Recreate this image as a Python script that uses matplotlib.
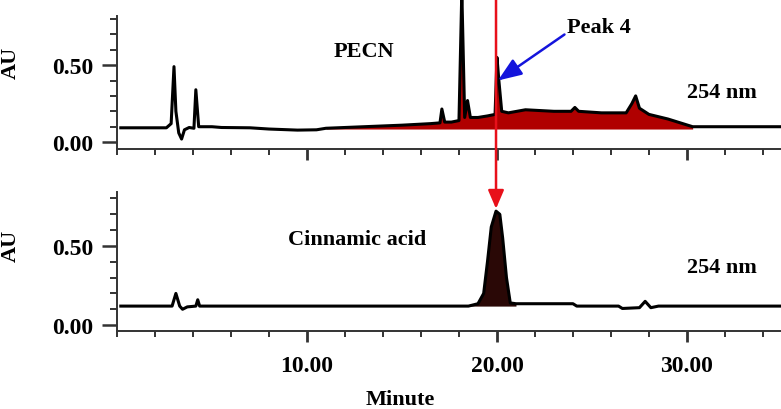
import numpy as np
import matplotlib
matplotlib.use('Agg')
import matplotlib.pyplot as plt
from matplotlib.ticker import MultipleLocator, FixedLocator
from matplotlib.transforms import blended_transform_factory

plt.rcParams['font.family'] = ['Liberation Serif', 'DejaVu Serif']
plt.rcParams['font.weight'] = 'bold'
plt.rcParams['font.size'] = 16

# PECN chromatogram (minutes, AU)
pecn_time = [0.2, 2.6, 2.85, 3.0, 3.1, 3.25, 3.4, 3.55, 3.8, 4.05, 4.15, 4.3, 4.6, 5.0, 5.5,
             7.0, 8.0, 9.5, 10.5, 11.0, 13.0, 15.0, 16.5, 17.0, 17.1, 17.25, 17.6, 18.0,
             18.15, 18.3, 18.45, 18.6, 19.0, 19.5, 19.9, 20.0, 20.1, 20.25, 20.6, 21.5,
             23.0, 23.9, 24.1, 24.3, 25.5, 26.8, 27.1, 27.3, 27.5, 28.0, 29.0, 30.3, 35.0]
pecn_au = [0.093, 0.093, 0.12, 0.49, 0.2, 0.06, 0.02, 0.08, 0.095, 0.09, 0.34, 0.1, 0.1, 0.1, 0.095,
           0.093, 0.085, 0.078, 0.08, 0.09, 0.1, 0.11, 0.12, 0.125, 0.215, 0.13, 0.13, 0.14,
           0.98, 0.16, 0.27, 0.16, 0.16, 0.17, 0.18, 0.55, 0.4, 0.2, 0.19, 0.21,
           0.2, 0.2, 0.225, 0.2, 0.19, 0.19, 0.25, 0.30, 0.22, 0.18, 0.15, 0.1, 0.1]

# Cinnamic acid standard (minutes, AU)
cinn_time = [0.2, 2.9, 3.1, 3.3, 3.45, 3.7, 4.15, 4.25, 4.35, 18.5, 19.0, 19.3, 19.5, 19.7,
             19.95, 20.15, 20.3, 20.5, 20.7, 21.0, 24.0, 24.2, 26.4, 26.6, 27.5, 27.8, 28.1,
             28.5, 35.0]
cinn_au = [0.12, 0.12, 0.2, 0.12, 0.1, 0.115, 0.12, 0.16, 0.12, 0.12, 0.135, 0.2, 0.4, 0.62,
           0.72, 0.7, 0.55, 0.3, 0.14, 0.135, 0.135, 0.12, 0.12, 0.105, 0.11, 0.15, 0.11,
           0.12, 0.12]

peak_time = 19.95

fig = plt.figure(figsize=(7.81, 4.1), dpi=100)
ax1 = fig.add_axes([0.1498, 0.634, 0.8502, 0.366])
ax2 = fig.add_axes([0.1498, 0.190, 0.8502, 0.347])

def style(ax, ylo, yhi, spine_top):
    ax.set_xlim(0, 34.95)
    ax.set_ylim(ylo, yhi)
    for s in ['top', 'right']:
        ax.spines[s].set_visible(False)
    for s in ['left', 'bottom']:
        ax.spines[s].set_color('#333333')
        ax.spines[s].set_linewidth(1.4)
    ax.spines['left'].set_bounds(ylo, spine_top)
    ax.yaxis.set_major_locator(FixedLocator([0.0, 0.5]))
    ax.yaxis.set_minor_locator(FixedLocator([0.1, 0.2, 0.3, 0.4, 0.6, 0.7, 0.8]))
    ax.xaxis.set_major_locator(FixedLocator([10, 20, 30]))
    ax.xaxis.set_minor_locator(MultipleLocator(2))
    ax.yaxis.set_major_formatter(plt.FuncFormatter(lambda v, p: '%.2f' % v))
    ax.xaxis.set_major_formatter(plt.FuncFormatter(lambda v, p: '%.2f' % v))
    ax.tick_params(axis='y', which='major', length=11, width=1.8, pad=6, color='#333333',
                   labelsize=17)
    ax.tick_params(axis='y', which='minor', length=5, width=1.4, color='#333333')
    ax.tick_params(axis='x', which='major', length=8, width=2.0, pad=9, color='#333333',
                   labelsize=17)
    ax.tick_params(axis='x', which='minor', length=4, width=1.4, color='#333333')
    ax.patch.set_alpha(0)

style(ax1, -0.045, 0.929, 0.82)
style(ax2, -0.038, 0.861, 0.84)
ax1.tick_params(axis='x', labelbottom=False)

t1 = np.array(pecn_time)
a1 = np.array(pecn_au)
ax1.fill_between(t1, 0.085, a1, where=(t1 >= 11) & (t1 <= 30.3), color='#b00000', lw=0)
ax1.plot(t1, a1, color='black', lw=2.2, solid_joinstyle='round')

t2 = np.array(cinn_time)
a2 = np.array(cinn_au)
ax2.fill_between(t2, 0.12, a2, where=(t2 >= 18.5) & (t2 <= 21.0), color='#2a0806', lw=0)
ax2.plot(t2, a2, color='black', lw=2.2, solid_joinstyle='round')

ax1.text(11.4, 0.59, 'PECN', ha='left', va='center')
ax1.text(30.0, 0.325, '254 nm', ha='left', va='center')
ax2.text(9.0, 0.545, 'Cinnamic acid', ha='left', va='center')
ax2.text(30.0, 0.37, '254 nm', ha='left', va='center')

ax1.annotate('Peak 4', xy=(20.05, 0.40), xytext=(23.7, 0.75), ha='left', va='center',
             arrowprops=dict(arrowstyle='-|>,head_length=0.9,head_width=0.35',
                             color='#1414dc', lw=1.8, shrinkA=0, shrinkB=0,
                             relpos=(0.0, 0.2)))

# red marker line from top of figure down to the standard's peak
trans = blended_transform_factory(ax2.transData, fig.transFigure)
ax2.annotate('', xy=(peak_time, 0.735), xytext=(peak_time, 1.0), textcoords=trans,
             arrowprops=dict(arrowstyle='-|>,head_length=0.7,head_width=0.3',
                             color='#e8101a', lw=1.8, shrinkA=0, shrinkB=0),
             annotation_clip=False)

fig.text(0.014, 0.846, 'AU', rotation=90, ha='center', va='center')
fig.text(0.014, 0.40, 'AU', rotation=90, ha='center', va='center')
fig.text(0.512, 0.025, 'Minute', ha='center', va='center')

fig.savefig('out.png', dpi=100)
